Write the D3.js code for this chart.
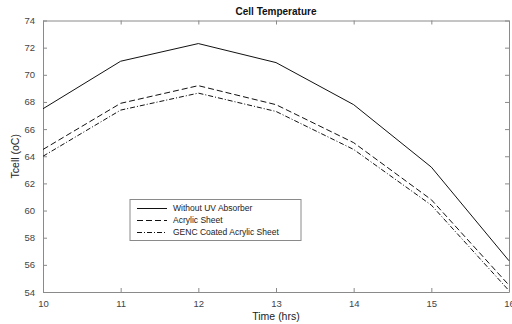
<!DOCTYPE html>
<html>
<head>
<meta charset="utf-8">
<script src="https://cdn.jsdelivr.net/npm/d3@7"></script>
<style>
body { margin: 0; background: #fff; }
svg { font-family: "Liberation Sans", Arial, sans-serif; }
</style>
</head>
<body>
<svg id="chart" width="512" height="324"></svg>
<script>
// data
var hours = [10, 11, 12, 13, 14, 15, 16];
var withoutUV = [67.5, 71.0, 72.3, 70.9, 67.8, 63.2, 56.3];
var acrylic = [64.5, 67.9, 69.2, 67.8, 65.0, 60.8, 54.5];
var genc = [64.0, 67.4, 68.65, 67.3, 64.5, 60.4, 54.1];
var yTicks = [54, 56, 58, 60, 62, 64, 66, 68, 70, 72, 74];
var seriesNames = ["Without UV Absorber", "Acrylic Sheet", "GENC Coated Acrylic Sheet"];
var seriesDash = ["none", "6,3", "5,2,1,2"];

var margin = {top: 20.5, right: 3, bottom: 32, left: 43},
    width = 512 - margin.left - margin.right,
    height = 324 - margin.top - margin.bottom;

var svg = d3.select("#chart")
    .append("g")
    .attr("transform", "translate(" + margin.left + "," + margin.top + ")");

var x = d3.scaleLinear().domain([10, 16]).range([0, width]);
var y = d3.scaleLinear().domain([54, 74]).range([height, 0]);

var axisColor = "#8a8a8a";
var textColor = "#444";

// axes (inward ticks, box like matlab)
function styleAxis(g) {
    g.select(".domain").attr("stroke", axisColor);
    g.selectAll(".tick line").attr("stroke", axisColor);
    g.selectAll("text").attr("fill", textColor).style("font-size", "9.5px");
}

svg.append("g")
    .attr("transform", "translate(0," + height + ")")
    .call(d3.axisBottom(x).tickValues(hours).tickFormat(d3.format("d")).tickSize(-4).tickPadding(8).tickSizeOuter(0))
    .call(styleAxis);

svg.append("g")
    .call(d3.axisLeft(y).tickValues(yTicks).tickFormat(d3.format("d")).tickSize(-4).tickPadding(8).tickSizeOuter(0))
    .call(styleAxis);

svg.append("g")
    .call(d3.axisTop(x).tickValues(hours).tickSize(-4).tickFormat("").tickSizeOuter(0))
    .call(styleAxis);

svg.append("g")
    .attr("transform", "translate(" + width + ",0)")
    .call(d3.axisRight(y).tickValues(yTicks).tickSize(-4).tickFormat("").tickSizeOuter(0))
    .call(styleAxis);

// lines
var allSeries = [withoutUV, acrylic, genc];
var line = d3.line()
    .x(function (d, i) { return x(hours[i]); })
    .y(function (d) { return y(d); });

svg.selectAll(".series")
    .data(allSeries)
    .enter().append("path")
    .attr("class", "series")
    .attr("d", line)
    .attr("fill", "none")
    .attr("stroke", "#111")
    .attr("stroke-width", 1)
    .attr("stroke-dasharray", function (d, i) { return seriesDash[i]; });

// title and axis labels
svg.append("text")
    .attr("x", width / 2)
    .attr("y", -6)
    .attr("text-anchor", "middle")
    .style("font-size", "10px")
    .style("font-weight", "bold")
    .attr("fill", "#111")
    .text("Cell Temperature");

svg.append("text")
    .attr("x", width / 2)
    .attr("y", height + 28)
    .attr("text-anchor", "middle")
    .style("font-size", "10.5px")
    .attr("fill", "#222")
    .text("Time (hrs)");

svg.append("text")
    .attr("transform", "translate(-24," + (height / 2) + ") rotate(-90)")
    .attr("text-anchor", "middle")
    .style("font-size", "10.5px")
    .attr("fill", "#222")
    .text("Tcell (oC)");

// legend
var legend = svg.append("g")
    .attr("transform", "translate(" + (130 - margin.left) + "," + (199.5 - margin.top) + ")");

legend.append("rect")
    .attr("width", 171)
    .attr("height", 41)
    .attr("fill", "#fff")
    .attr("stroke", axisColor);

legend.selectAll("line")
    .data(seriesNames)
    .enter().append("line")
    .attr("x1", 7)
    .attr("x2", 37)
    .attr("y1", function (d, i) { return 9 + i * 12; })
    .attr("y2", function (d, i) { return 9 + i * 12; })
    .attr("stroke", "#111")
    .attr("stroke-dasharray", function (d, i) { return seriesDash[i]; });

legend.selectAll("text")
    .data(seriesNames)
    .enter().append("text")
    .attr("x", 43)
    .attr("y", function (d, i) { return 9 + i * 12; })
    .attr("dy", "0.35em")
    .style("font-size", "8.5px")
    .attr("fill", "#222")
    .text(function (d) { return d; });
</script>
</body>
</html>
